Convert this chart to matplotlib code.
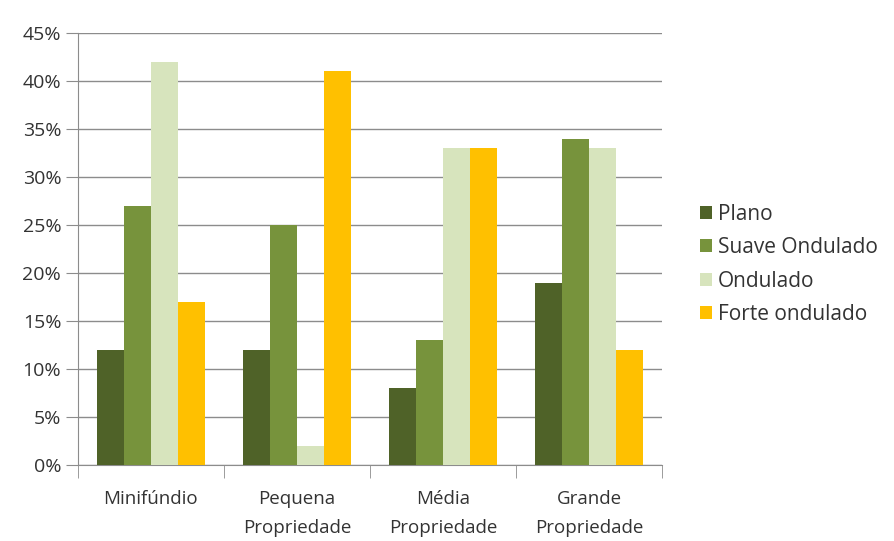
import matplotlib
matplotlib.use("Agg")
import matplotlib.pyplot as plt
import numpy as np
from matplotlib.ticker import FuncFormatter

plt.rcParams['font.family'] = ['Open Sans', 'DejaVu Sans']

categorias = ['Minifúndio', 'Pequena\nPropriedade', 'Média\nPropriedade', 'Grande\nPropriedade']
series = ['Plano', 'Suave Ondulado', 'Ondulado', 'Forte ondulado']
plano = [12, 12, 8, 19]
suave = [27, 25, 13, 34]
ondulado = [42, 2, 33, 33]
forte = [17, 41, 33, 12]
cores = ['#4F6228', '#77933C', '#D7E4BD', '#FFC000']

fig = plt.figure(figsize=(8.95, 5.41), dpi=100)
ax = fig.add_axes([0.087, 0.14, 0.653, 0.799])

x = np.arange(len(categorias))
w = 0.185
for i, (nome, vals) in enumerate(zip(series, [plano, suave, ondulado, forte])):
    ax.bar(x + (i - 1.5) * w, vals, w, color=cores[i], label=nome, zorder=3)

ax.set_ylim(0, 45)
ax.set_xlim(-0.5, 3.5)
ax.set_yticks(range(0, 46, 5))
ax.yaxis.set_major_formatter(FuncFormatter(lambda v, p: f'{int(v)}%'))
ax.grid(axis='y', color='#8c8c8c', linewidth=1, zorder=0)

ax.set_xticks(x)
ax.set_xticklabels(categorias, fontsize=13.5, color='#333333', linespacing=1.75)
ax.set_xticks(np.arange(-0.5, 4, 1), minor=True)
ax.tick_params(axis='x', which='major', length=0, pad=18)
ax.tick_params(axis='x', which='minor', length=9, color='#8c8c8c')
ax.tick_params(axis='y', length=9, color='#8c8c8c', labelsize=14, labelcolor='#333333', pad=3)

for s in ['top', 'right']:
    ax.spines[s].set_visible(False)
for s in ['left', 'bottom']:
    ax.spines[s].set_color('#8c8c8c')

ax.legend(loc='center left', bbox_to_anchor=(1.05, 0.465), frameon=False, fontsize=15,
          handlelength=0.6, handleheight=0.6, handletextpad=0.25, labelspacing=0.6,
          borderaxespad=0, labelcolor='#333333')

fig.savefig('out.png', dpi=100)
